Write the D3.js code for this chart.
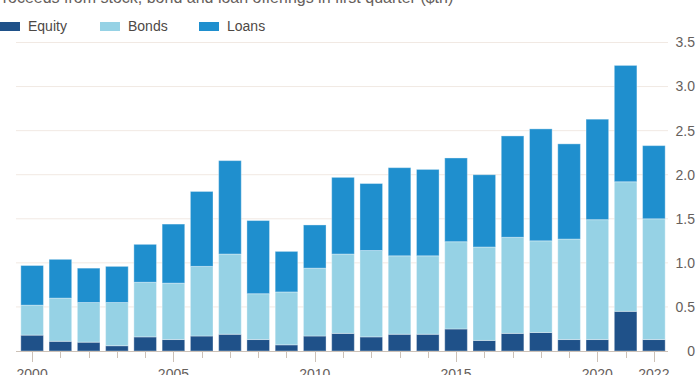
<!DOCTYPE html>
<html>
<head>
<meta charset="utf-8">
<script src="https://cdn.jsdelivr.net/npm/d3@7"></script>
<style>
  body { margin: 0; background: #fff; }
  svg { display: block; font-family: "Liberation Sans", Arial, sans-serif; }
</style>
</head>
<body>
<script>
// chart data
var years = d3.range(2000, 2023);
var equity = [0.18, 0.11, 0.10, 0.06, 0.16, 0.13, 0.17, 0.19, 0.13, 0.07, 0.17, 0.20,
              0.16, 0.19, 0.19, 0.25, 0.12, 0.20, 0.21, 0.13, 0.13, 0.45, 0.13];
var bonds  = [0.34, 0.49, 0.45, 0.49, 0.62, 0.64, 0.79, 0.91, 0.52, 0.60, 0.77, 0.90,
              0.98, 0.89, 0.89, 0.99, 1.06, 1.09, 1.04, 1.14, 1.36, 1.47, 1.37];
var loans  = [0.45, 0.44, 0.39, 0.41, 0.43, 0.67, 0.85, 1.06, 0.83, 0.46, 0.49, 0.87,
              0.76, 1.00, 0.98, 0.95, 0.82, 1.15, 1.27, 1.08, 1.14, 1.32, 0.83];
var seriesNames = ["Equity", "Bonds", "Loans"];
var seriesColors = ["#1f5189", "#96d2e5", "#1f8fce"];
var yTicks = [0, 0.5, 1, 1.5, 2, 2.5, 3, 3.5];
var labelYears = [2000, 2005, 2010, 2015, 2020, 2022];
var title = "Proceeds from stock, bond and loan offerings in first quarter ($tn)";

var width = 700,
    height = 375;

var svg = d3.select("body").append("svg")
    .attr("width", width)
    .attr("height", height);

var rows = years.map(function(y, i) {
  return { year: y, Equity: equity[i], Bonds: bonds[i], Loans: loans[i] };
});

var x = d3.scaleBand().domain(years).range([18, 668]).paddingInner(0.2).paddingOuter(0.1);
var y = d3.scaleLinear().domain([0, 3.5]).range([351, 42.5]);

// title (clipped at the top, as in the source)
svg.append("text")
    .attr("x", -8).attr("y", 3)
    .attr("fill", "#66605c")
    .style("font-size", "16px")
    .text(title);

// legend
var legendX = [0, 100, 199];
var legend = svg.selectAll(".legend").data(seriesNames).enter().append("g")
    .attr("class", "legend")
    .attr("transform", function(d, i) { return "translate(" + legendX[i] + ",0)"; });
legend.append("rect")
    .attr("x", 0).attr("y", 22).attr("width", 20).attr("height", 9)
    .attr("fill", function(d, i) { return seriesColors[i]; });
legend.append("text")
    .attr("x", 28).attr("y", 26.5)
    .attr("dy", "0.35em")
    .attr("fill", "#4d4845")
    .style("font-size", "14px")
    .text(function(d) { return d; });

// gridlines + right axis labels
svg.selectAll(".grid").data(yTicks.filter(function(t) { return t > 0; })).enter().append("line")
    .attr("class", "grid")
    .attr("x1", 16).attr("x2", 668)
    .attr("y1", function(d) { return y(d); })
    .attr("y2", function(d) { return y(d); })
    .attr("stroke", "#f1e9e3").attr("stroke-width", 1);

svg.selectAll(".ylab").data(yTicks).enter().append("text")
    .attr("class", "ylab")
    .attr("x", 695)
    .attr("y", function(d) { return y(d); })
    .attr("dy", "0.35em")
    .attr("text-anchor", "end")
    .attr("fill", "#66605c")
    .style("font-size", "14px")
    .text(function(d) { return d === 0 ? "0" : d3.format(".1f")(d); });

// stacked bars
var stack = d3.stack().keys(seriesNames)(rows);
svg.selectAll(".series").data(stack).enter().append("g")
    .attr("class", "series")
    .attr("fill", function(d, i) { return seriesColors[i]; })
  .selectAll("rect").data(function(d) { return d; }).enter().append("rect")
    .attr("x", function(d) { return x(d.data.year); })
    .attr("width", x.bandwidth())
    .attr("y", function(d) { return y(d[1]); })
    .attr("height", function(d) { return y(d[0]) - y(d[1]); })
    .attr("stroke", "rgba(255,255,255,0.35)")
    .attr("stroke-width", 1);

// baseline axis
svg.append("line")
    .attr("x1", 16).attr("x2", 668)
    .attr("y1", 351.5).attr("y2", 351.5)
    .attr("stroke", "#ccc1b7").attr("stroke-width", 1);

svg.selectAll(".xtick").data(years).enter().append("line")
    .attr("class", "xtick")
    .attr("x1", function(d) { return Math.round(x(d) + x.bandwidth() / 2) + 0.5; })
    .attr("x2", function(d) { return Math.round(x(d) + x.bandwidth() / 2) + 0.5; })
    .attr("y1", 352)
    .attr("y2", function(d) { return labelYears.indexOf(d) >= 0 ? 362 : 358; })
    .attr("stroke", "#ccc1b7").attr("stroke-width", 1);

svg.selectAll(".xlab").data(labelYears).enter().append("text")
    .attr("class", "xlab")
    .attr("x", function(d) { return x(d) + x.bandwidth() / 2; })
    .attr("y", 379)
    .attr("text-anchor", "middle")
    .attr("fill", "#66605c")
    .style("font-size", "14px")
    .text(function(d) { return d; });
</script>
</body>
</html>
